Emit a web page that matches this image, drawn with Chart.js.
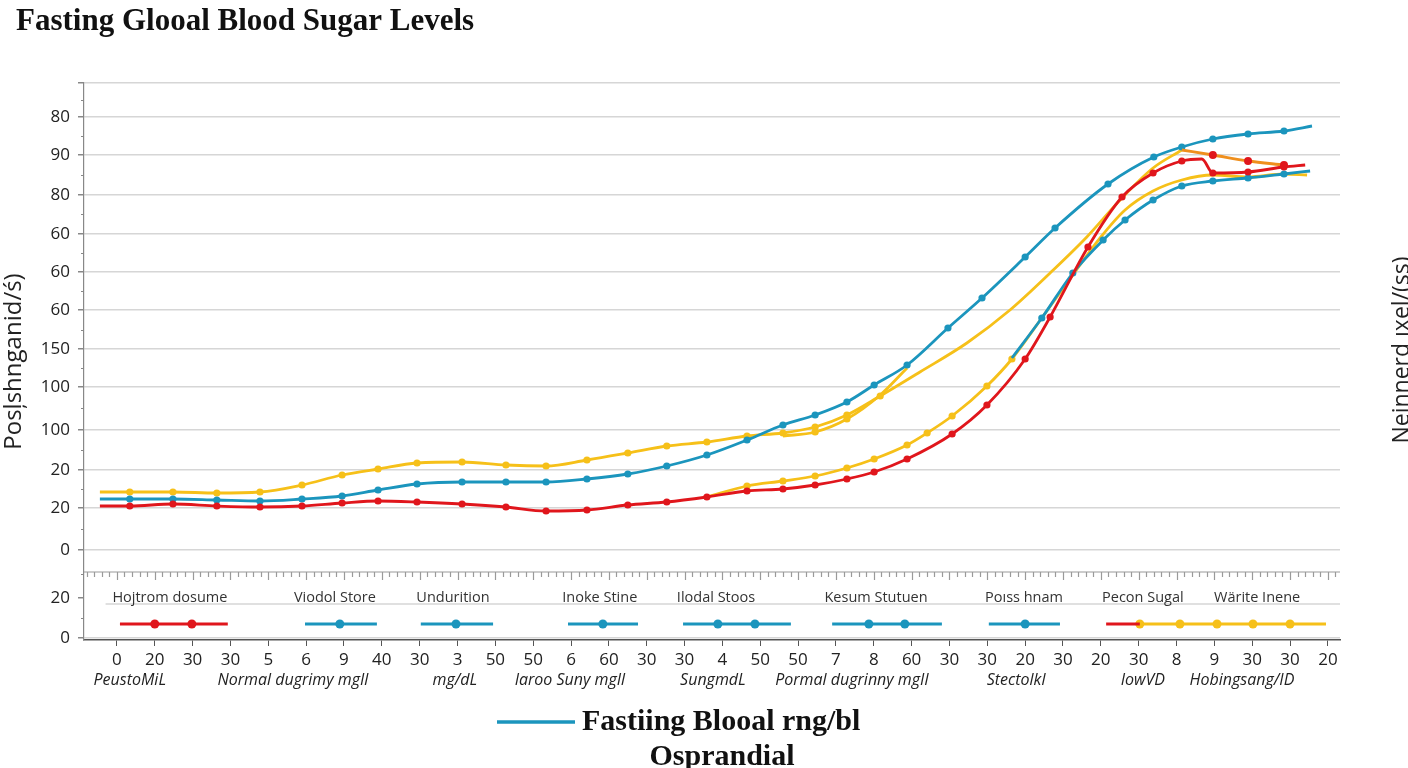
<!DOCTYPE html>
<html>
<head>
<meta charset="utf-8">
<script src="https://cdn.jsdelivr.net/npm/chart.js@4.4.1/dist/chart.umd.min.js"></script>
<style>
  html, body { margin: 0; padding: 0; background: #fff; }
  canvas { display: block; }
</style>
</head>
<body>
<canvas id="sugarChart" width="1408" height="768" style="width:1408px;height:768px"></canvas>
<script>
// --- datos ---
const xTickLabels = ['0','20','30','30','5','6','9','40','30','3','50','50','6','60','30','30','4','50','50','7','8','60','30','30','20','30','20','30','8','9','30','30','20'];
const yTickValues = [0, 40, 88, 130, 168, 208, 251, 289, 328, 366, 404, 443, 483, 521, 555];
const yTickLabels = ['0','20','0','20','20','100','100','150','60','60','60','80','90','80',''];

const redX = [-0.45,0.34,1.48,2.64,3.78,4.89,5.95,6.90,7.93,9.12,10.28,11.34,12.42,13.50,14.53,15.59,16.65,17.60,18.45,19.29,20.01,20.88,22.07,22.99,24.00,24.66,25.66,26.56,27.38,28.14,28.67,28.96,29.89,30.84,31.40];
const redY = [132,132,134,132,131,132,135,137,136,134,131,127,128,133,136,141,147,149,153,159,166,179,204,233,279,321,391,441,465,477,479,465,466,471,473];

const tealX = [-0.45,0.34,1.48,2.64,3.78,4.89,5.95,6.90,7.93,9.12,10.28,11.34,12.42,13.50,14.53,15.59,16.65,17.60,18.45,19.29,20.01,20.88,21.96,22.86,24.00,24.79,26.19,27.40,28.14,28.96,29.89,30.84,31.58];
const tealY = [139,139,139,138,137,139,142,148,154,156,156,156,159,164,172,183,198,213,223,236,253,273,310,340,381,410,454,481,491,499,504,507,512];

const yellowX = [-0.45,0.34,1.48,2.64,3.78,4.89,5.95,6.90,7.93,9.12,10.28,11.34,12.42,13.50,14.53,15.59,16.65,17.60,18.45,19.29,20.17,21.22,22.46,23.60,24.66,25.63,26.51,27.38,28.14];
const yellowY = [146,146,146,145,146,153,163,169,175,176,173,172,178,185,192,196,202,205,211,223,242,266,295,328,365,401,438,470,488];

const orangeX = [28.14,28.96,29.89,30.84];
const orangeY = [488,483,477,473];

const spurX = [17.60,18.45,19.29,20.17,20.88];
const spurY = [202,206,219,243,270];

const yellowLowX = [15.59,16.65,17.60,18.45,19.29,20.01,20.88,21.41,22.07,22.99,23.65,24.44,25.26,25.98,26.64,27.38,28.14,28.96,29.89,30.84,31.45];
const yellowLowY = [141,152,157,162,170,179,193,205,222,252,279,320,363,400,428,447,458,463,461,464,463];

const tealLowX = [23.65,24.44,25.26,26.06,26.64,27.38,28.14,28.96,29.89,30.84,31.53];
const tealLowY = [280,320,365,398,418,438,452,457,460,464,467];

// fila de segmentos bajo el gráfico
const rowLevel = 14;
const rowSegX = [
  [0.08,1.00,1.98,2.93],
  [4.97,5.89,6.87],
  [8.03,8.96,9.94],
  [11.92,12.84,13.77],
  [14.96,15.88,16.86,17.81],
  [18.90,19.87,20.82,21.80],
  [23.04,24.00,24.92],
  [26.14,27.03],
  [27.03,28.09,29.07,30.02,31.00,31.95]
];
const rowSegColor = ['red','teal','teal','teal','teal','teal','teal','red','yellow'];
const rowLabelX = [1.40,5.76,8.88,12.76,15.83,20.06,23.97,27.11,30.13];
const rowLabels = ['Hojtrom dosume','Viodol Store','Undurition','Inoke Stine','Ilodal Stoos','Kesum Stutuen','Poıss hnam','Pecon Sugal','Wärite Inene'];

const italicX = [0.34,4.65,8.93,11.97,15.75,19.42,23.76,27.11,29.73];
const italicLabels = ['PeustoMiL','Normal dugrimy mgIl','mg/dL','Iaroo Suny mgIl','SungmdL','Pormal dugrinny mgIl','Stectolkl','IowVD','Hobingsang/ID'];

// --- estilos ---
const COLORS = { red: '#e0161c', teal: '#1b95bd', yellow: '#f6c019', orange: '#ef8f1d' };
const SANS = '"Open Sans", "DejaVu Sans", sans-serif';
const SERIF = '"Liberation Serif", "DejaVu Serif", serif';

function pts(xs, ys) {
  return xs.map((x, i) => ({ x: x, y: ys[i] }));
}

// radio de puntos: sólo los índices marcados llevan punto
function dotsOnly(list, r) {
  return ctx => list.includes(ctx.dataIndex) ? r : 0;
}
function dotsExcept(list, r) {
  return ctx => list.includes(ctx.dataIndex) ? 0 : r;
}
function range(a, b) {
  const out = [];
  for (let i = a; i <= b; i++) out.push(i);
  return out;
}

function serie(data, color, radius, pointColor) {
  return {
    data: data,
    borderColor: color,
    backgroundColor: pointColor || color,
    pointBackgroundColor: pointColor || color,
    pointBorderWidth: 0,
    pointRadius: radius,
    borderWidth: 2.8,
    cubicInterpolationMode: 'monotone',
    fill: false
  };
}

const datasets = [
  serie(pts(redX, redY), COLORS.red, dotsExcept([0, 30, 34], 3.6)),
  serie(pts(orangeX, orangeY), COLORS.orange, dotsOnly([1, 2, 3], 4), COLORS.red),
  serie(pts(tealLowX, tealLowY), COLORS.teal, dotsOnly(range(1, 9), 3.6)),
  serie(pts(yellowLowX, yellowLowY), COLORS.yellow, dotsOnly(range(1, 10), 3.6)),
  serie(pts(tealX, tealY), COLORS.teal, dotsExcept([0, 32], 3.6)),
  serie(pts(spurX, spurY), COLORS.yellow, dotsOnly([1, 2], 3.6)),
  serie(pts(yellowX, yellowY), COLORS.yellow, dotsOnly(range(1, 20), 3.6))
];

rowSegX.forEach((xs, i) => {
  const n = xs.length;
  const dots = rowSegColor[i] === 'yellow' ? range(0, n - 2) : range(1, n - 2);
  const ds = serie(xs.map(x => ({ x: x, y: rowLevel })), COLORS[rowSegColor[i]], dotsOnly(dots, 4.5));
  ds.borderWidth = 3.2;
  ds.cubicInterpolationMode = 'default';
  datasets.push(ds);
});

// dibujos extra: regla, etiquetas, leyenda inferior
const decor = {
  id: 'decor',
  beforeDatasetsDraw(chart) {
    const { ctx, scales: { x, y }, chartArea: a } = chart;
    ctx.save();
    // regla con marcas
    const ry = y.getPixelForValue(66);
    ctx.strokeStyle = '#9a9a9a';
    ctx.lineWidth = 1.2;
    ctx.beginPath();
    ctx.moveTo(a.left, ry);
    ctx.lineTo(a.right, ry);
    for (let k = Math.ceil(x.min * 5); k <= x.max * 5; k++) {
      const px = Math.round(x.getPixelForValue(k / 5)) + 0.5;
      const len = k % 5 === 0 ? 8 : 5;
      ctx.moveTo(px, ry);
      ctx.lineTo(px, ry + len);
    }
    ctx.stroke();
    // línea bajo las etiquetas de la fila
    const sy = y.getPixelForValue(34);
    ctx.strokeStyle = '#d6d6d6';
    ctx.lineWidth = 1.5;
    ctx.beginPath();
    ctx.moveTo(x.getPixelForValue(-0.3), sy);
    ctx.lineTo(a.right, sy);
    ctx.stroke();
    // marcas menores del eje y
    ctx.strokeStyle = '#888';
    ctx.lineWidth = 1;
    ctx.beginPath();
    for (let i = 0; i < yTickValues.length - 1; i++) {
      const py = Math.round(y.getPixelForValue((yTickValues[i] + yTickValues[i + 1]) / 2)) + 0.5;
      ctx.moveTo(a.left - 3, py);
      ctx.lineTo(a.left, py);
    }
    ctx.stroke();
    ctx.restore();
  },
  afterDraw(chart) {
    const { ctx, scales: { x, y } } = chart;
    ctx.save();
    ctx.textAlign = 'center';
    ctx.textBaseline = 'middle';
    // etiquetas de la fila
    ctx.fillStyle = '#333';
    ctx.font = '14.5px ' + SANS;
    const ly = y.getPixelForValue(40);
    rowLabels.forEach((t, i) => ctx.fillText(t, x.getPixelForValue(rowLabelX[i]), ly));
    // etiquetas en cursiva
    ctx.fillStyle = '#222';
    ctx.font = 'italic 16px ' + SANS;
    italicLabels.forEach((t, i) => ctx.fillText(t, x.getPixelForValue(italicX[i]), 680));
    // título derecho
    ctx.save();
    ctx.translate(1402, 350);
    ctx.rotate(-Math.PI / 2);
    ctx.font = '23px ' + SANS;
    ctx.fillText('Neinnerd ıxel/(ss)', 0, 0);
    ctx.restore();
    // leyenda inferior
    ctx.strokeStyle = COLORS.teal;
    ctx.lineWidth = 3.5;
    ctx.beginPath();
    ctx.moveTo(497, 722);
    ctx.lineTo(575, 722);
    ctx.stroke();
    ctx.fillStyle = '#111';
    ctx.font = 'bold 30px ' + SERIF;
    ctx.textAlign = 'left';
    ctx.fillText('Fastiing Blooal rng/bl', 582, 722);
    ctx.textAlign = 'center';
    ctx.fillText('Osprandial', 722, 757);
    ctx.restore();
  }
};

new Chart(document.getElementById('sugarChart'), {
  type: 'line',
  data: { datasets: datasets },
  options: {
    responsive: false,
    animation: false,
    layout: { padding: { left: 16, right: 68, top: 0, bottom: 0 } },
    plugins: {
      legend: { display: false },
      tooltip: { enabled: false },
      title: {
        display: true,
        text: 'Fasting Glooal Blood Sugar Levels',
        align: 'start',
        color: '#111',
        font: { family: SERIF, size: 31, weight: 'bold' },
        padding: { top: 3, bottom: 42.8 }
      }
    },
    scales: {
      x: {
        type: 'linear',
        min: -0.87,
        max: 32.32,
        afterBuildTicks: s => { s.ticks = xTickLabels.map((_, i) => ({ value: i })); },
        afterFit: s => { s.height = 128; },
        ticks: {
          autoSkip: false,
          maxRotation: 0,
          padding: 4,
          color: '#222',
          font: { family: SANS, size: 17 },
          callback: (v, i) => xTickLabels[i]
        },
        grid: { drawOnChartArea: false, tickLength: 6, color: '#555' },
        border: { color: '#555', width: 1.5 }
      },
      y: {
        type: 'linear',
        min: -2,
        max: 555,
        afterBuildTicks: s => { s.ticks = yTickValues.map(v => ({ value: v })); },
        afterFit: s => { s.width = 68; },
        ticks: {
          padding: 8,
          color: '#222',
          font: { family: SANS, size: 17 },
          callback: (v, i) => yTickLabels[i]
        },
        grid: {
          color: c => (c.tick && c.tick.value === 40) ? 'rgba(0,0,0,0)' : '#d6d6d6',
          tickColor: '#888',
          lineWidth: 1.5,
          tickLength: 6
        },
        border: { color: '#888', width: 1.2 },
        title: {
          display: true,
          text: 'Posļshnganid/ś)',
          color: '#222',
          font: { family: SANS, size: 24 },
          padding: { top: -16, bottom: 0 }
        }
      }
    }
  },
  plugins: [decor]
});
</script>
</body>
</html>
